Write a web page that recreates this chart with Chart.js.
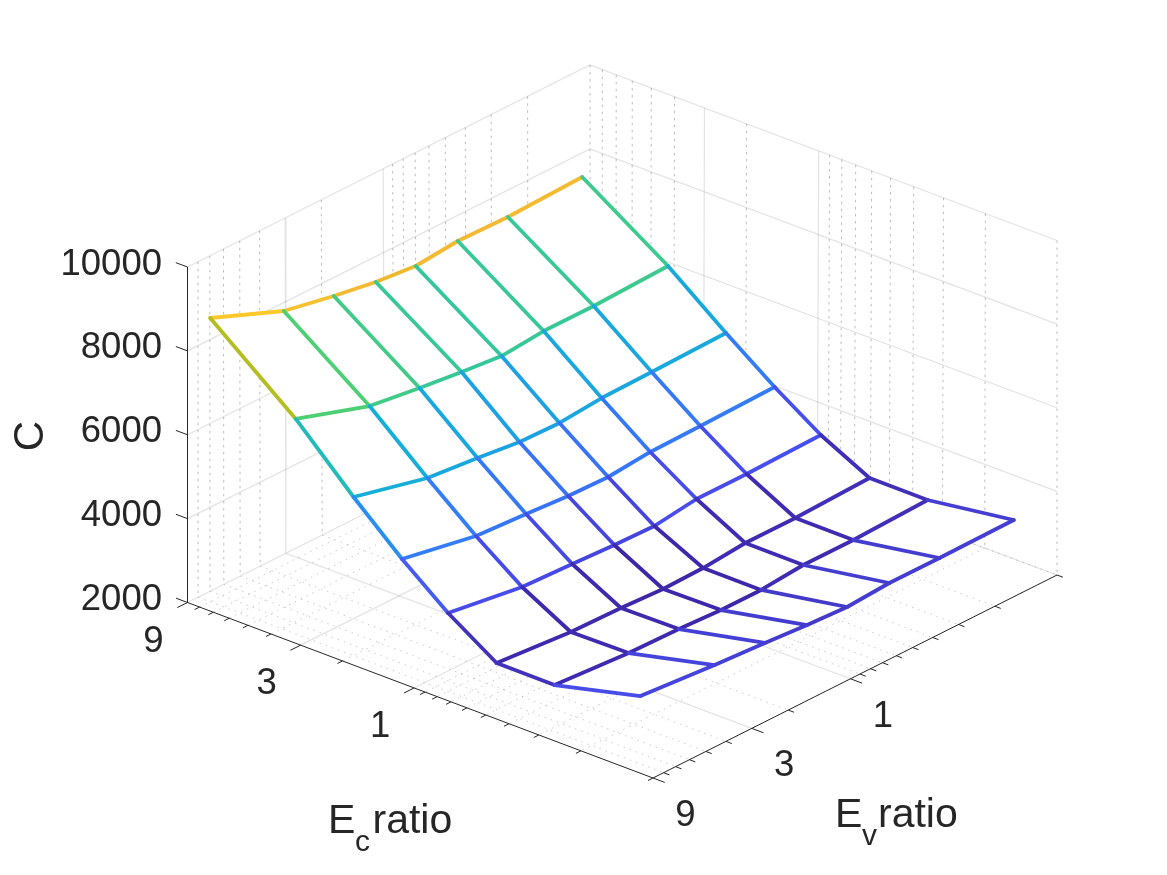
<!DOCTYPE html>
<html><head><meta charset="utf-8">
<style>html,body{margin:0;padding:0;background:#fff}canvas{display:block}</style>
<script src="https://cdn.jsdelivr.net/npm/chart.js@4"></script>
</head><body>
<canvas id="mesh" width="1167" height="875"></canvas>
<script>
// Sampled stiffness ratios along both horizontal axes
const ecRatio = [8, 3.5, 2, 1.25, 0.8, 0.5, 0.286, 0.125];
const evRatio = [8, 3.5, 2, 1.25, 0.8, 0.5, 0.286, 0.125];

// C for each Ec ratio, one value per Ev ratio
const cAtEc8    = [8767, 8054, 7814, 7646, 7550, 7643, 7617, 7682];
const cAtEc3p5  = [7122, 6551, 6383, 6263, 6167, 6261, 6260, 6327];
const cAtEc2    = [5779, 5351, 5230, 5109, 5086, 5179, 5202, 5246];
const cAtEc1p25 = [4736, 4402, 4329, 4255, 4231, 4325, 4347, 4392];
const cAtEc0p8  = [3864, 3600, 3549, 3499, 3474, 3615, 3614, 3658];
const cAtEc0p5  = [3110, 2963, 2936, 2885, 2907, 3000, 2998, 3065];
const cAtEc0p29 = [3104, 2981, 2953, 2902, 2901, 2993, 2990, 3057];
const cAtEc0p13 = [3609, 3463, 3388, 3313, 3264, 3332, 3329, 3348];
const cGrid = [cAtEc8, cAtEc3p5, cAtEc2, cAtEc1p25, cAtEc0p8, cAtEc0p5, cAtEc0p29, cAtEc0p13];

// Axis ticks
const ratioMajor = [9, 3, 1];
const ratioMinor = [8, 7, 6, 5, 4, 2, 0.9, 0.8, 0.7, 0.6, 0.5, 0.4, 0.3, 0.2, 0.1];
const cTicks = [2000, 4000, 6000, 8000, 10000];
const ratioLimits = [9, 0.1];
const cLimits = [2000, 10000];

// Camera: where the box corners land on the canvas (lower and upper faces)
const lowerFace = [[187.5, 602.5], [653, 778], [1057, 575], [590, 401]];
const upperFace = [[187.5, 267], [653, 440], [1057, 240.5], [590, 65]];

function homography(q) {
  const [[x0, y0], [x1, y1], [x2, y2], [x3, y3]] = q;
  const dx1 = x1 - x2, dx2 = x3 - x2, sx = x0 - x1 + x2 - x3;
  const dy1 = y1 - y2, dy2 = y3 - y2, sy = y0 - y1 + y2 - y3;
  const den = dx1 * dy2 - dx2 * dy1;
  const g = (sx * dy2 - dx2 * sy) / den, h = (dx1 * sy - sx * dy1) / den;
  return (u, v) => {
    const w = g * u + h * v + 1;
    return [((x1 - x0 + g * x1) * u + (x3 - x0 + h * x3) * v + x0) / w,
            ((y1 - y0 + g * y1) * u + (y3 - y0 + h * y3) * v + y0) / w];
  };
}
const lowerMap = homography(lowerFace), upperMap = homography(upperFace);
const ratioPos = r => Math.log(ratioLimits[0] / r) / Math.log(ratioLimits[0] / ratioLimits[1]);
const cPos = c => (c - cLimits[0]) / (cLimits[1] - cLimits[0]);

// u runs along the Ec axis, v along the Ev axis, both in 0..1
function project(u, v, c) {
  const a = lowerMap(u, v), b = upperMap(u, v), t = cPos(c);
  return { x: a[0] + (b[0] - a[0]) * t, y: a[1] + (b[1] - a[1]) * t };
}

// parula colormap stops: position, red, green, blue
const parula = [[0, 62, 38, 168], [0.143, 72, 82, 244], [0.286, 46, 135, 247], [0.429, 18, 177, 214],
                [0.571, 55, 200, 151], [0.63, 80, 208, 112], [0.72, 180, 190, 32], [0.80, 242, 184, 50],
                [0.88, 253, 200, 43], [1, 249, 251, 21]];
const cFlat = cGrid.flat();
const cMin = Math.min(...cFlat), cMax = Math.max(...cFlat);
function meshColor(c) {
  const t = Math.min(1, Math.max(0, (c - cMin) / (cMax - cMin)));
  let i = 0;
  while (i < parula.length - 2 && t > parula[i + 1][0]) i++;
  const a = parula[i], b = parula[i + 1], f = (t - a[0]) / (b[0] - a[0]);
  const ch = [1, 2, 3].map(k => Math.round(a[k] + (b[k] - a[k]) * f));
  return `rgb(${ch[0]},${ch[1]},${ch[2]})`;
}

const layers = [];
function addLine(points, style) {
  layers.push(Object.assign({ data: points, showLine: true, pointRadius: 0, tension: 0, clip: false,
                              borderCapStyle: 'butt', fill: false }, style));
}
const majorGrid = { borderColor: 'rgba(38,38,38,0.13)', borderWidth: 1.2 };
const wallDots = { borderColor: 'rgba(38,38,38,0.3)', borderWidth: 1, borderDash: [2.5, 4.5] };
const floorDots = { borderColor: 'rgba(38,38,38,0.24)', borderWidth: 1, borderDash: [1.5, 5] };
const axisLine = { borderColor: '#262626', borderWidth: 1 };
const [cLo, cHi] = cLimits;

// Minor grid on the two back walls and the floor
for (const r of ratioMinor) {
  const p = ratioPos(r);
  addLine([project(0, p, cHi), project(0, p, cLo)], wallDots);
  addLine([project(0, p, cLo), project(1, p, cLo)], floorDots);
  addLine([project(p, 1, cHi), project(p, 1, cLo)], wallDots);
  addLine([project(p, 1, cLo), project(p, 0, cLo)], floorDots);
}
// Major grid; the wall line for the outermost ratio falls on the box edges
for (const r of ratioMajor) {
  const p = ratioPos(r);
  if (p > 0) {
    addLine([project(0, p, cHi), project(0, p, cLo), project(1, p, cLo)], majorGrid);
    addLine([project(p, 1, cHi), project(p, 1, cLo), project(p, 0, cLo)], majorGrid);
  }
}
for (const c of cTicks) {
  addLine([project(0, 0, c), project(0, 1, c), project(1, 1, c)], majorGrid);
}

// Axis rulers and their ticks
addLine([project(0, 0, cLo), project(0, 0, cHi)], axisLine);
addLine([project(0, 0, cLo), project(1, 0, cLo)], axisLine);
addLine([project(1, 0, cLo), project(1, 1, cLo)], axisLine);
const majorLen = 0.025, minorLen = 0.0125;
for (const [ticks, len] of [[ratioMajor, majorLen], [ratioMinor, minorLen]]) {
  for (const r of ticks) {
    const p = ratioPos(r);
    addLine([project(p, 0, cLo), project(p, -len, cLo)], axisLine);
    addLine([project(1, p, cLo), project(1 + len, p, cLo)], axisLine);
  }
}
for (const c of cTicks) {
  addLine([project(0, 0, c), project(-majorLen, 0, c)], axisLine);
}

// Opaque cells, so the surface hides the grid behind it
const node = (i, j) => project(ratioPos(ecRatio[i]), ratioPos(evRatio[j]), cGrid[i][j]);
for (let i = 0; i < ecRatio.length - 1; i++) {
  for (let j = 0; j < evRatio.length - 1; j++) {
    addLine([node(i, j), node(i, j + 1), node(i + 1, j + 1), node(i + 1, j), node(i, j)],
            { borderWidth: 0, borderColor: 'rgba(0,0,0,0)', backgroundColor: '#ffffff', fill: 'shape' });
  }
}

// The surface as a wireframe; each edge takes the colour of its far vertex
function meshStyle(values) {
  return {
    borderWidth: 3.8, borderCapStyle: 'round', borderJoinStyle: 'round', borderColor: meshColor(values[1]),
    segment: { borderColor: ctx => meshColor(values[ctx.p1DataIndex]) }
  };
}
ecRatio.forEach((_, i) => {
  addLine(evRatio.map((_, j) => node(i, j)), meshStyle(cGrid[i]));
});
evRatio.forEach((_, j) => {
  addLine(ecRatio.map((_, i) => node(i, j)), meshStyle(ecRatio.map((_, i) => cGrid[i][j])));
});

// Tick numbers and axis titles
const textColor = '#262626';
const tickFont = '36.5px "Liberation Sans"';
const titleFont = '41px "Liberation Sans"';
const subFont = '30px "Liberation Sans"';
const axisText = {
  id: 'axisText',
  afterDatasetsDraw(chart) {
    const { ctx, scales: { x, y } } = chart;
    const px = p => [x.getPixelForValue(p.x), y.getPixelForValue(p.y)];
    const put = (s, xp, yp, font, align) => {
      ctx.font = font; ctx.textAlign = align; ctx.textBaseline = 'alphabetic'; ctx.fillText(s, xp, yp);
    };
    ctx.save();
    ctx.fillStyle = textColor;
    for (const c of cTicks) {
      const [xp, yp] = px(project(0, 0, c));
      put(String(c), xp - 25.5, yp + 7.5, tickFont, 'right');
    }
    for (const r of ratioMajor) {
      const p = ratioPos(r);
      const [xa, ya] = px(project(p, 0, cLo));
      put(String(r), xa - 34, ya + 49, tickFont, 'center');
      const [xb, yb] = px(project(1, p, cLo));
      put(String(r), xb + 32.5, yb + 48, tickFont, 'center');
    }
    put('E', 328, 833, titleFont, 'left');
    put('c', 355, 851, subFont, 'left');
    put('ratio', 372.5, 833, titleFont, 'left');
    put('E', 835, 827, titleFont, 'left');
    put('v', 862, 845, subFont, 'left');
    put('ratio', 878, 827, titleFont, 'left');
    ctx.translate(42.5, 436);
    ctx.rotate(-Math.PI / 2);
    put('C', 0, 0, '42px "Liberation Sans"', 'center');
    ctx.restore();
  }
};

// Chart.js paints the first dataset last, so the list goes in back to front
new Chart(document.getElementById('mesh'), {
  type: 'scatter',
  data: { datasets: layers.slice().reverse() },
  plugins: [axisText],
  options: {
    responsive: false, animation: false, events: [],
    layout: { padding: 0 },
    plugins: { legend: { display: false }, tooltip: { enabled: false }, title: { display: false } },
    scales: {
      x: { type: 'linear', min: 0, max: 1167, display: false },
      y: { type: 'linear', min: 0, max: 875, reverse: true, display: false }
    }
  }
});
</script>
</body></html>
